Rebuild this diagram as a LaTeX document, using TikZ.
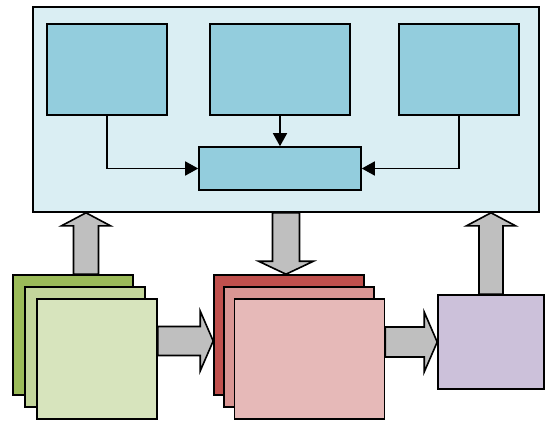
\documentclass[tikz,border=0pt]{standalone}
\usetikzlibrary{calc,arrows.meta}

\definecolor{panelblue}{HTML}{DAEEF3}
\definecolor{boxblue}{HTML}{93CDDD}
\definecolor{greenA}{HTML}{9BBB59}
\definecolor{greenB}{HTML}{C3D69B}
\definecolor{greenC}{HTML}{D7E4BD}
\definecolor{redA}{HTML}{C0504D}
\definecolor{redB}{HTML}{D99694}
\definecolor{redC}{HTML}{E6B9B8}
\definecolor{lilac}{HTML}{CCC1DA}
\definecolor{arrowgray}{HTML}{BFBFBF}

\begin{document}
\begin{tikzpicture}
[x=1pt,y=-1pt,
box/.style={rectangle,draw=black,line width=1.6pt,inner sep=0pt},
link/.style={draw=black,line width=1.6pt,-{Triangle[length=13pt,width=14pt]}},
bigarrow/.style 2 args={draw=black,fill=arrowgray,line width=1.6pt,
  to path={let \p1=(\tikztostart), \p2=(\tikztotarget),
    \n1={atan2(\y2-\y1,\x2-\x1)}, \n2={\n1+90}, \n3={\n1+180} in
    ($(\p1)+(\n2:#1)$) -- ($(\p2)+(\n3:13pt)+(\n2:#1)$) -- ($(\p2)+(\n3:13pt)+(\n2:#2)$)
    -- (\p2) -- ($(\p2)+(\n3:13pt)+(\n2:-#2)$) -- ($(\p2)+(\n3:13pt)+(\n2:-#1)$)
    -- ($(\p1)+(\n2:-#1)$) -- cycle}}]
\useasboundingbox (0,0) rectangle (546,423);

% top panel
\node[box,fill=panelblue,minimum width=506pt,minimum height=205pt] (panel) at (286,109.5) {};
\node[box,fill=boxblue,minimum width=120pt,minimum height=91pt] (left) at (107,69.5) {};
\node[box,fill=boxblue,minimum width=140pt,minimum height=91pt] (mid) at (280,69.5) {};
\node[box,fill=boxblue,minimum width=120pt,minimum height=91pt] (right) at (459,69.5) {};
\node[box,fill=boxblue,minimum width=162pt,minimum height=43pt] (merge) at (280,168.5) {};

\draw[link] (left.south) |- (merge.west);
\draw[link] (mid.south) -- (merge.north);
\draw[link] (right.south) |- (merge.east);

% green stack
\node[box,fill=greenA,minimum width=120pt,minimum height=120pt] (g1) at (73,335) {};
\node[box,fill=greenB,minimum width=120pt,minimum height=120pt] (g2) at (85,347) {};
\node[box,fill=greenC,minimum width=120pt,minimum height=120pt] (g3) at (97,359) {};

% red stack
\node[box,fill=redA,minimum width=150pt,minimum height=120pt] (r1) at (289,335) {};
\node[box,fill=redB,minimum width=150pt,minimum height=120pt] (r2) at (299,347) {};
\node[box,fill=redC,minimum width=150pt,minimum height=120pt] (r3) at (309.5,359) {};

% lilac box
\node[box,fill=lilac,minimum width=106pt,minimum height=94pt] (out) at (491,342) {};

% big arrows
\coordinate (up1) at ($(g1.north)+(13,0)$);
\coordinate (gr1) at ($(g3.east)+(0,-18)$);
\coordinate (gr2) at ($(r3.east)+(0,-17)$);

\draw[bigarrow={12.5pt}{24.5pt}] (up1) to (up1 |- panel.south);
\draw[bigarrow={13.5pt}{27.5pt}] (panel.south) to (panel.south |- r1.north);
\draw[bigarrow={12pt}{24.5pt}] (out.north) to (out.north |- panel.south);
\draw[bigarrow={14.5pt}{30pt}] (gr1) to (gr1 -| r1.west);
\draw[bigarrow={15pt}{30pt}] (gr2) to (gr2 -| out.west);

\end{tikzpicture}
\end{document}
